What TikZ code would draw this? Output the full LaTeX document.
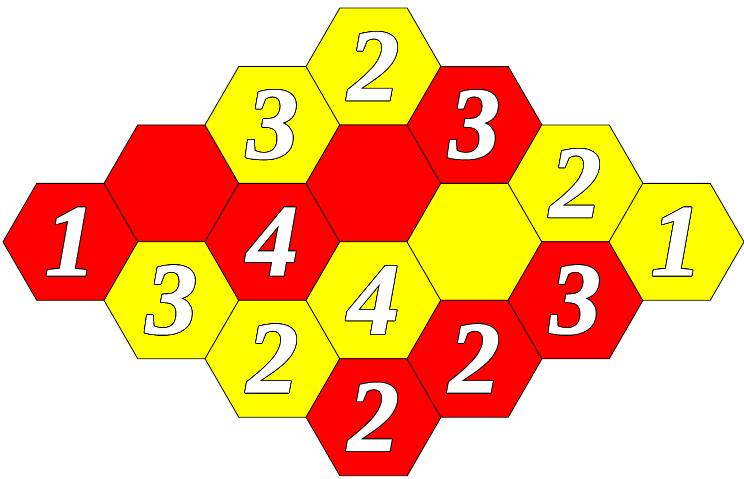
\documentclass[tikz,border=0pt]{standalone}
\usepackage{fontspec}
\newfontfamily\hexfont{Liberation Serif Bold Italic}[FakeBold=1.5]
\usepackage{xcolor}
\definecolor{HexRed}   {RGB}{255,0,0}
\definecolor{HexYellow}{RGB}{255,255,0}
\usepackage{contour}
\contourlength{0.55pt}
\contournumber{24}
\usepackage{tikz}
\usetikzlibrary{shapes.geometric}

\newcommand{\hexdigit}[1]{\contour{black}{#1}}

\begin{document}
\begin{tikzpicture}[
  x=0.75pt, y=-0.75pt,
  hex/.style={
    regular polygon, regular polygon sides=6,
    minimum size=101.25pt,
    inner sep=0pt, outer sep=0pt,
    draw=black, line width=0.6pt,
    text=white,
    font=\hexfont\fontsize{76}{76}\selectfont
  },
  redhex/.style={hex, fill=HexRed},
  yellowhex/.style={hex, fill=HexYellow}
]
\useasboundingbox (0,0) rectangle (744,479);

% column 0
\node[redhex] (c0r3) at (70.5,241.85) {\hexdigit{1}};
% column 1
\node[redhex] (c1r2) at (171.5,183.4) {};
\node[yellowhex] (c1r4) at (171.5,300.3) {\hexdigit{3}};
% column 2
\node[yellowhex] (c2r1) at (272.5,124.95) {\hexdigit{3}};
\node[redhex] (c2r3) at (272.5,241.85) {\hexdigit{4}};
\node[yellowhex] (c2r5) at (272.5,358.75) {\hexdigit{2}};
% column 3
\node[yellowhex] (c3r0) at (373.5,66.5) {\hexdigit{2}};
\node[redhex] (c3r2) at (373.5,183.4) {};
\node[yellowhex] (c3r4) at (373.5,300.3) {\hexdigit{4}};
\node[redhex] (c3r6) at (373.5,417.2) {\hexdigit{2}};
% column 4
\node[redhex] (c4r1) at (474.5,124.95) {\hexdigit{3}};
\node[yellowhex] (c4r3) at (474.5,241.85) {};
\node[redhex] (c4r5) at (474.5,358.75) {\hexdigit{2}};
% column 5
\node[yellowhex] (c5r2) at (575.5,183.4) {\hexdigit{2}};
\node[redhex] (c5r4) at (575.5,300.3) {\hexdigit{3}};
% column 6
\node[yellowhex] (c6r3) at (676.5,241.85) {\hexdigit{1}};
\end{tikzpicture}
\end{document}
